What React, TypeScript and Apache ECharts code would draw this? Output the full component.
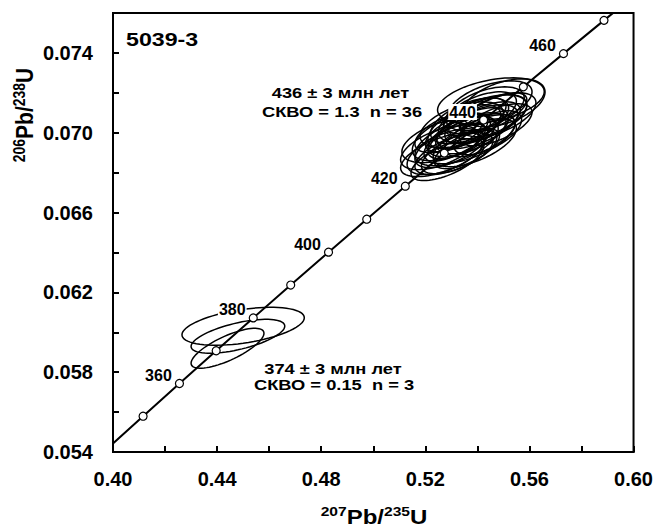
import React, { useEffect, useRef } from "react";
import * as echarts from "echarts";

// Concordia reference points (age in Ma, 207Pb/235U, 206Pb/238U)
const concordiaAges = [340, 350, 360, 370, 380, 390, 400, 410, 420, 430, 440, 450, 460, 470, 480];
const concordiaX = [0.39773, 0.41156, 0.42553, 0.43964, 0.45389, 0.46828, 0.48281, 0.49749, 0.51231, 0.52728, 0.54239, 0.55766, 0.57308, 0.58865, 0.60437];
const concordiaY = [0.054158, 0.055794, 0.057433, 0.059075, 0.060719, 0.062366, 0.064015, 0.065667, 0.067321, 0.068978, 0.070637, 0.072299, 0.073964, 0.075631, 0.077301];
const labeledAges = [360, 380, 400, 420, 440, 460];

// Axis tick labels
const xTickLabels = ["0.40", "0.44", "0.48", "0.52", "0.56", "0.60"];
const yTickLabels = ["0.054", "0.058", "0.062", "0.066", "0.070", "0.074"];

// Error ellipses: [x, y, sx, sy, rho]
const mainEllipses = [
  [0.5280, 0.06905, 0.0150, 0.00115, 0.55],
  [0.5300, 0.06935, 0.0140, 0.00110, 0.60],
  [0.5320, 0.06955, 0.0160, 0.00120, 0.55],
  [0.5340, 0.06975, 0.0130, 0.00105, 0.65],
  [0.5360, 0.06990, 0.0150, 0.00110, 0.60],
  [0.5380, 0.07010, 0.0140, 0.00115, 0.55],
  [0.5400, 0.07030, 0.0155, 0.00110, 0.60],
  [0.5420, 0.07050, 0.0145, 0.00105, 0.60],
  [0.5440, 0.07080, 0.0150, 0.00110, 0.55],
  [0.5460, 0.07100, 0.0130, 0.00100, 0.65],
  [0.5270, 0.06960, 0.0160, 0.00110, 0.50],
  [0.5310, 0.06895, 0.0150, 0.00105, 0.60],
  [0.5350, 0.07030, 0.0140, 0.00110, 0.55],
  [0.5390, 0.06950, 0.0160, 0.00120, 0.60],
  [0.5430, 0.07120, 0.0150, 0.00110, 0.50],
  [0.5470, 0.07040, 0.0140, 0.00105, 0.60],
  [0.5265, 0.06890, 0.0160, 0.00110, 0.60],
  [0.5290, 0.07000, 0.0130, 0.00100, 0.55],
  [0.5330, 0.06905, 0.0145, 0.00110, 0.65],
  [0.5370, 0.07060, 0.0150, 0.00115, 0.55],
  [0.5410, 0.06985, 0.0135, 0.00105, 0.60],
  [0.5450, 0.07150, 0.0160, 0.00110, 0.50],
  [0.5500, 0.07150, 0.0160, 0.00120, 0.45],
  [0.5452, 0.07160, 0.0205, 0.00115, 0.40],
  [0.5320, 0.07000, 0.0120, 0.00095, 0.60],
  [0.5360, 0.06920, 0.0125, 0.00100, 0.65],
  [0.5390, 0.07080, 0.0120, 0.00095, 0.55],
  [0.5285, 0.06865, 0.0140, 0.00105, 0.65],
  [0.5410, 0.07100, 0.0140, 0.00105, 0.55],
  [0.5340, 0.07040, 0.0160, 0.00115, 0.50],
  [0.5300, 0.06980, 0.0150, 0.00120, 0.55],
  [0.5440, 0.07000, 0.0130, 0.00110, 0.60],
  [0.5480, 0.07090, 0.0145, 0.00110, 0.55],
  [0.5255, 0.06925, 0.0150, 0.00110, 0.55],
  [0.5370, 0.06970, 0.0175, 0.00125, 0.60],
  [0.5420, 0.07070, 0.0170, 0.00120, 0.55],
];
const youngEllipses = [
  [0.4500, 0.06030, 0.0235, 0.00095, 0.45],
  [0.4480, 0.05980, 0.0180, 0.00085, 0.60],
  [0.4440, 0.05920, 0.0140, 0.00100, 0.75],
];

const FONT = '"Liberation Sans", Arial, Helvetica, sans-serif';

function ellipseRender(params: any, api: any) {
  const cx = api.value(0);
  const cy = api.value(1);
  const sx = api.value(2);
  const sy = api.value(3);
  const rho = api.value(4);
  const k = Math.sqrt(1 - rho * rho);
  const pts: number[][] = [];
  const N = 72;
  for (let i = 0; i <= N; i++) {
    const t = (2 * Math.PI * i) / N;
    const x = cx + sx * Math.cos(t);
    const y = cy + sy * (rho * Math.cos(t) + k * Math.sin(t));
    pts.push(api.coord([x, y]));
  }
  return {
    type: "polygon",
    shape: { points: pts },
    style: { fill: "none", stroke: "#000", lineWidth: 1.5 },
  };
}

export default function App() {
  const ref = useRef<HTMLDivElement>(null);
  useEffect(() => {
    if (!ref.current) return;
    const chart = echarts.init(ref.current, null, { renderer: "svg" });
    const lineData = concordiaAges.map((a, i) => [concordiaX[i], concordiaY[i]]);
    const markerData = concordiaAges
      .map((a, i) => ({ age: a, value: [concordiaX[i], concordiaY[i]] }))
      .filter((d) => d.value[0] >= 0.4 && d.value[1] <= 0.076)
      .map((d) => ({
        value: d.value,
        label: { show: labeledAges.includes(d.age), formatter: String(d.age) },
      }));
    const supRich = {
      s: { fontSize: 13, fontWeight: "bold", fontFamily: FONT, lineHeight: 14, verticalAlign: "top", fill: "#000" },
      b: { fontSize: 20, fontWeight: "bold", fontFamily: FONT, lineHeight: 22, verticalAlign: "bottom", fill: "#000" },
    };
    const supRichY = {
      s: { fontSize: 14, fontWeight: "bold", fontFamily: FONT, lineHeight: 15, verticalAlign: "top", fill: "#000" },
      b: { fontSize: 21, fontWeight: "bold", fontFamily: FONT, lineHeight: 23, verticalAlign: "bottom", fill: "#000" },
    };
    const annot = (text: string, x: number, y: number, size: number, sx: number, align = "center") => ({
      type: "text",
      x,
      y,
      scaleX: sx,
      z: 100,
      style: {
        text,
        fontSize: size,
        fontWeight: "bold",
        fontFamily: FONT,
        fill: "#000",
        align,
        verticalAlign: "middle",
      },
    });
    chart.setOption({
      animation: false,
      backgroundColor: "#fff",
      grid: {
        left: 113,
        right: 21,
        top: 13,
        bottom: 76,
        show: true,
        borderColor: "#000",
        borderWidth: 2,
      },
      xAxis: {
        type: "value",
        min: 0.4,
        max: 0.6,
        interval: 0.02,
        axisLine: { show: true, lineStyle: { color: "#000", width: 2 } },
        axisTick: { show: true, inside: true, length: 6, lineStyle: { color: "#000", width: 2 } },
        axisLabel: {
          margin: 17,
          fontSize: 20,
          fontWeight: "bold",
          fontFamily: FONT,
          color: "#000",
          formatter: (v: number) => {
            const s = v.toFixed(2);
            return xTickLabels.includes(s) ? s : "";
          },
        },
        splitLine: { show: false },
      },
      yAxis: {
        type: "value",
        min: 0.054,
        max: 0.076,
        interval: 0.002,
        axisLine: { show: true, lineStyle: { color: "#000", width: 2 } },
        axisTick: { show: true, inside: true, length: 6, lineStyle: { color: "#000", width: 2 } },
        axisLabel: {
          margin: 20,
          fontSize: 20,
          fontWeight: "bold",
          fontFamily: FONT,
          color: "#000",
          formatter: (v: number) => {
            const s = v.toFixed(3);
            return yTickLabels.includes(s) ? s : "";
          },
        },
        splitLine: { show: false },
      },
      series: [
        {
          type: "custom",
          name: "main",
          renderItem: ellipseRender,
          data: mainEllipses,
          encode: { x: 0, y: 1 },
          clip: true,
          z: 2,
          silent: true,
        },
        {
          type: "custom",
          name: "young",
          renderItem: ellipseRender,
          data: youngEllipses,
          encode: { x: 0, y: 1 },
          clip: true,
          z: 2,
          silent: true,
        },
        {
          type: "line",
          data: lineData,
          showSymbol: false,
          symbol: "none",
          clip: true,
          lineStyle: { color: "#000", width: 2 },
          z: 3,
          silent: true,
        },
        {
          type: "scatter",
          data: markerData,
          symbol: "circle",
          symbolSize: 8,
          itemStyle: { color: "#fff", borderColor: "#000", borderWidth: 1.2, opacity: 1 },
          label: {
            show: false,
            position: "inside",
            offset: [-21, -8],
            fontSize: 16,
            fontWeight: "bold",
            fontFamily: FONT,
            color: "#000",
            backgroundColor: "#fff",
            padding: [0, 1],
          },
          z: 5,
          silent: true,
        },
      ],
      graphic: [
        {
          type: "text",
          x: 24,
          y: 115,
          rotation: Math.PI / 2,
          scaleY: 1.15,
          style: {
            text: "{s|206}{b|Pb/}{s|238}{b|U}",
            rich: supRichY,
            align: "center",
            verticalAlign: "middle",
          },
        },
        {
          type: "text",
          x: 374,
          y: 516,
          scaleX: 1.2,
          style: {
            text: "{s|207}{b|Pb/}{s|235}{b|U}",
            rich: supRich,
            align: "center",
            verticalAlign: "middle",
          },
        },
        annot("5039-3", 126, 39, 19, 1.22, "left"),
        annot("436 ± 3 млн лет", 340.5, 93, 15, 1.22),
        annot("СКВО = 1.3  n = 36", 342, 112.5, 15, 1.22),
        annot("374 ± 3 млн лет", 333, 369, 15, 1.22),
        annot("СКВО = 0.15  n = 3", 334, 385, 15, 1.22),
      ],
    });
    return () => chart.dispose();
  }, []);
  return (
    <div
      ref={ref}
      style={{ position: "absolute", left: 0, top: 0, width: 656, height: 528 }}
    />
  );
}
